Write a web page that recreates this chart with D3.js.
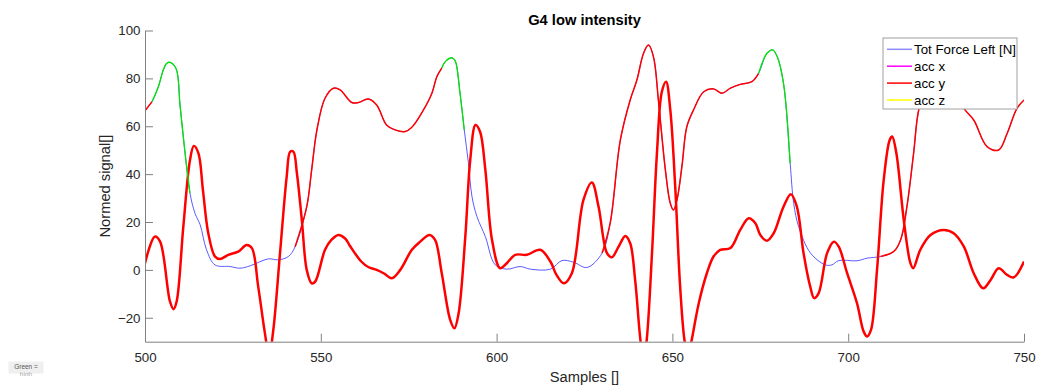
<!DOCTYPE html>
<html>
<head>
<meta charset="utf-8">
<script src="https://cdn.jsdelivr.net/npm/d3@7"></script>
<style>
    body { margin: 0; background: #fff; }
    svg { display: block; font-family: "Liberation Sans", Arial, sans-serif; }
</style>
</head>
<body>
<svg id="chart" width="1040" height="389"></svg>
<script>
// [sample, normed value]
const forceLeft = [
    [500, 66.5], [502, 70.3], [503.8, 76.5], [505.2, 83.5], [506.2, 86.3], [507.1, 86.7], [508.8, 84.2],
    [510, 68.2], [511.4, 48.7], [512.8, 32], [514.2, 23.7], [515.7, 18.8], [517.5, 8.4], [519.9, 2.1],
    [524.2, 1.4], [527, 0.7], [529.9, 1.7], [535.1, 4.6], [537.9, 4.2], [540.8, 5.6], [542.7, 9.7],
    [546, 26.4], [547.4, 41.8], [548.9, 58.5], [551.2, 71.7], [553.6, 75.9], [555.5, 75.2], [558.8, 69.9],
    [560.7, 69.9], [563.5, 71.4], [565.9, 68.9], [568.7, 60.5], [571.1, 58.5], [574, 57.8], [575.9, 59.6],
    [579.2, 66.8], [581.6, 73.8], [583, 80.7], [584.4, 84.3], [585.4, 87], [587.3, 88.6], [588.2, 87.4],
    [589.6, 73.8], [590.8, 58.5], [592, 44.5], [593, 30.6], [594.4, 22.3], [596.8, 13.9], [599.6, 2.1],
    [602.9, 0.3], [606.7, 1.4], [609.6, 0.3], [615.3, 0.3], [618.6, 3.9], [621.9, 3.2], [625.7, 1.0],
    [630, 7], [632.3, 19.5], [635.2, 54.3], [638, 71], [639.9, 79.3], [641.8, 90.5], [643.2, 93.9],
    [644.6, 89.1], [646.1, 69.6], [648, 41.8], [649.4, 27.8], [650.3, 25], [651.3, 29.2], [652.7, 43.1],
    [654.1, 59.8], [656, 66.8], [658.9, 74.4], [661.7, 75.6], [664.1, 73.8], [666.5, 75.9], [669.3, 77.5],
    [672.6, 78.6], [674.5, 82.1], [676.9, 90.5], [678.5, 91.9], [679.8, 89.1], [681.6, 77.9], [683.5, 44.5],
    [684.5, 27.8], [685.9, 18.1], [689.3, 7], [693.5, 2.1], [695.4, 2.1], [697.3, 3.9], [702.5, 3.8],
    [705.4, 4.9], [709.2, 5.6], [712.9, 7.6], [714.9, 12.5], [716.7, 26.4], [718.6, 48.7], [720.1, 67.2],
    [723, 80], [727, 84], [730, 76], [732.9, 67.5], [735.7, 62.6], [739.5, 51.5], [742.8, 50.1],
    [745.2, 57], [748, 67.5], [750, 71]
];

const accY = [
    [500, 2.8], [502.8, 13.9], [504.3, 11.8], [507.1, -13.2], [508.1, -16.4], [509, -13.2], [510.9, 18.1],
    [512.8, 45.9], [513.9, 51.8], [515.2, 48.7], [516.5, 33], [518, 15.3], [519.9, 5.6], [521.3, 4.5],
    [523.7, 6.3], [526.5, 7.6], [528.9, 10.4], [530.4, 9.1], [532.2, -7], [534.1, -26.4], [535.3, -36],
    [536.5, -25], [538.4, 7], [540.3, 39], [541.3, 49.4], [542.2, 49.4], [543.2, 40.4], [544.6, 20.9],
    [546, 0], [547.4, -5.6], [548.4, -4.9], [551.2, 8.4], [553, 12.5], [555, 14.6], [557, 13],
    [558.3, 10], [561.5, 3.5], [563.5, 1.2], [565.9, 0], [568, -1.5], [570.2, -3.5], [572.6, 0],
    [575.9, 8.4], [578.3, 11.8], [580.9, 14.6], [582.5, 12.5], [584.4, -1.4], [586.8, -20.9], [588, -24.4],
    [589.2, -18.1], [591.1, 13.9], [592.5, 45.9], [594, 60.5], [595.3, 57.7], [596.8, 41.8], [598.7, 12.5],
    [601, 0.7], [602.9, 2.8], [605.3, 6.3], [608.6, 6.3], [612.4, 8.4], [615.3, 3.5], [617, -2],
    [619.1, -5.6], [621.4, -1.4], [624.7, 29.2], [627.1, 36.5], [629, 26.4], [631.4, 7], [632.8, 5.3],
    [634.7, 9.7], [636.6, 14.2], [638, 11.1], [639.4, -4.2], [640.9, -29.2], [641.8, -38], [642.7, -29.2],
    [644.2, 7], [645.6, 48.7], [647, 74.4], [648.2, 78.6], [649.4, 66.8], [650.8, 34.8], [652.2, -7],
    [653.5, -30], [654.5, -36], [655.5, -29.2], [657.5, -13.9], [659.8, -1.4], [661.7, 5.6], [663.6, 8.4],
    [666.5, 9.1], [669.3, 16.7], [671.7, 21.6], [673.6, 19.5], [675, 14.6], [676.9, 12.2], [678.8, 15.3],
    [681.6, 26.4], [683.7, 31.6], [685.4, 26.4], [687.3, 7], [689.2, -7], [690.3, -11.8], [691.6, -9.7],
    [694, 7], [695.9, 11.8], [697.3, 9.7], [699.7, -1.4], [702.5, -13.9], [704.4, -25.8], [705.4, -27.8],
    [706.5, -25], [708.2, 0], [710.1, 37.6], [711.8, 54.3], [712.5, 55.7], [713.7, 48.7], [715.8, 20.9],
    [717.7, 2.8], [718.5, 0.7], [720.5, 8.4], [723.4, 14.6], [727.2, 16.7], [730, 15.3], [732.9, 9.7],
    [735.7, -1.4], [738.4, -7.7], [740.5, -4.2], [742.8, 0.7], [745.2, -2.1], [747.1, -3.1], [750, 3.5]
];

// sample ranges of the force curve that are marked red / green
const redRanges = [[500, 502], [542.7, 584.4], [630, 674.5], [709.2, 750]];
const greenRanges = [[502, 512.8], [584.4, 590.8], [674.5, 683.5]];

const xTicks = [500, 550, 600, 650, 700, 750];
const yTicks = [-20, 0, 20, 40, 60, 80, 100];

const legendLabels = ['Tot Force Left [N]', 'acc x', 'acc y', 'acc z'];
const legendColors = ['#8c8cff', '#ff00ff', '#ff0000', '#ffff00'];

const svg = d3.select('#chart');

const plotLeft = 145, plotRight = 1024, plotTop = 30.5, plotBottom = 341.7;

const xScale = d3.scaleLinear().domain([500, 750]).range([plotLeft, plotRight]);
const yScale = d3.scaleLinear().domain([-30, 100]).range([plotBottom, plotTop]);

svg.append('defs')
    .append('clipPath')
    .attr('id', 'plot-clip')
    .append('rect')
    .attr('x', plotLeft)
    .attr('y', plotTop)
    .attr('width', plotRight - plotLeft)
    .attr('height', plotBottom - plotTop);

const line = d3.line()
    .x(([s]) => xScale(s))
    .y(([, v]) => yScale(v))
    .curve(d3.curveCatmullRom.alpha(0.5));

const plot = svg.append('g').attr('clip-path', 'url(#plot-clip)');

plot.append('path')
    .datum(forceLeft)
    .attr('fill', 'none')
    .attr('stroke', '#5a5aff')
    .attr('stroke-width', 1)
    .attr('d', line);

plot.append('path')
    .datum(accY)
    .attr('fill', 'none')
    .attr('stroke', '#ff0000')
    .attr('stroke-width', 2.5)
    .attr('stroke-linejoin', 'round')
    .attr('d', line);

const drawRanges = (ranges, colour, width) => ranges.forEach(([a, b]) => {
    plot.append('path')
        .datum(forceLeft.filter(([s]) => s >= a && s <= b))
        .attr('fill', 'none')
        .attr('stroke', colour)
        .attr('stroke-width', width)
        .attr('stroke-linejoin', 'round')
        .attr('d', line);
});

drawRanges(redRanges, '#ff0000', 1.5);
drawRanges(greenRanges, '#00e600', 1.3);

const xAxis = svg.append('g')
    .attr('transform', `translate(0,${plotBottom})`)
    .call(d3.axisBottom(xScale).tickValues(xTicks).tickSizeInner(-8).tickSizeOuter(0).tickPadding(10.5));

const yAxis = svg.append('g')
    .attr('transform', `translate(${plotLeft},0)`)
    .call(d3.axisLeft(yScale).tickValues(yTicks).tickSizeInner(-8).tickSizeOuter(0).tickPadding(4.5));

[xAxis, yAxis].forEach(axis => {
    axis.select('.domain').attr('stroke', '#808080');
    axis.selectAll('.tick line').attr('stroke', '#808080');
    axis.selectAll('.tick text')
        .attr('fill', '#262626')
        .attr('font-size', 13.3)
        .attr('font-family', '"Liberation Sans", Arial, sans-serif');
});

svg.append('text')
    .attr('x', (plotLeft + plotRight) / 2)
    .attr('y', 24.5)
    .attr('text-anchor', 'middle')
    .attr('font-size', 14.7)
    .attr('font-weight', 'bold')
    .attr('fill', '#000')
    .text('G4 low intensity');

svg.append('text')
    .attr('x', (plotLeft + plotRight) / 2)
    .attr('y', 381.5)
    .attr('text-anchor', 'middle')
    .attr('font-size', 14.7)
    .attr('fill', '#262626')
    .text('Samples []');

svg.append('text')
    .attr('transform', `translate(110,${(plotTop + plotBottom) / 2}) rotate(-90)`)
    .attr('text-anchor', 'middle')
    .attr('font-size', 14.7)
    .attr('fill', '#262626')
    .text('Normed signal[]');

// legend
const legend = svg.append('g').attr('transform', 'translate(883,38)');

legend.append('rect')
    .attr('width', 134)
    .attr('height', 71)
    .attr('fill', '#fff')
    .attr('stroke', '#a0a0a0')
    .attr('stroke-width', 1);

legendLabels.forEach((label, i) => {
    const rowY = 11.3 + i * 16.9;
    legend.append('line')
        .attr('x1', 4)
        .attr('x2', 29)
        .attr('y1', rowY)
        .attr('y2', rowY)
        .attr('stroke', legendColors[i])
        .attr('stroke-width', 1.5);
    legend.append('text')
        .attr('x', 31)
        .attr('y', rowY)
        .attr('dy', '0.35em')
        .attr('font-size', 13.3)
        .attr('fill', '#000')
        .text(label);
});

// small note box in the bottom-left corner
svg.append('clipPath')
    .attr('id', 'note-clip')
    .append('rect')
    .attr('x', 8)
    .attr('y', 361)
    .attr('width', 36)
    .attr('height', 15);

const note = svg.append('g').attr('clip-path', 'url(#note-clip)');

note.append('rect')
    .attr('x', 8.5)
    .attr('y', 361.5)
    .attr('width', 35)
    .attr('height', 12)
    .attr('fill', '#efefef');

note.append('text')
    .attr('x', 26)
    .attr('y', 368.5)
    .attr('text-anchor', 'middle')
    .attr('font-size', 6.5)
    .attr('fill', '#555')
    .text('Green =');

note.append('text')
    .attr('x', 26)
    .attr('y', 377)
    .attr('text-anchor', 'middle')
    .attr('font-size', 6.5)
    .attr('fill', '#aaa')
    .text('high');
</script>
</body>
</html>
